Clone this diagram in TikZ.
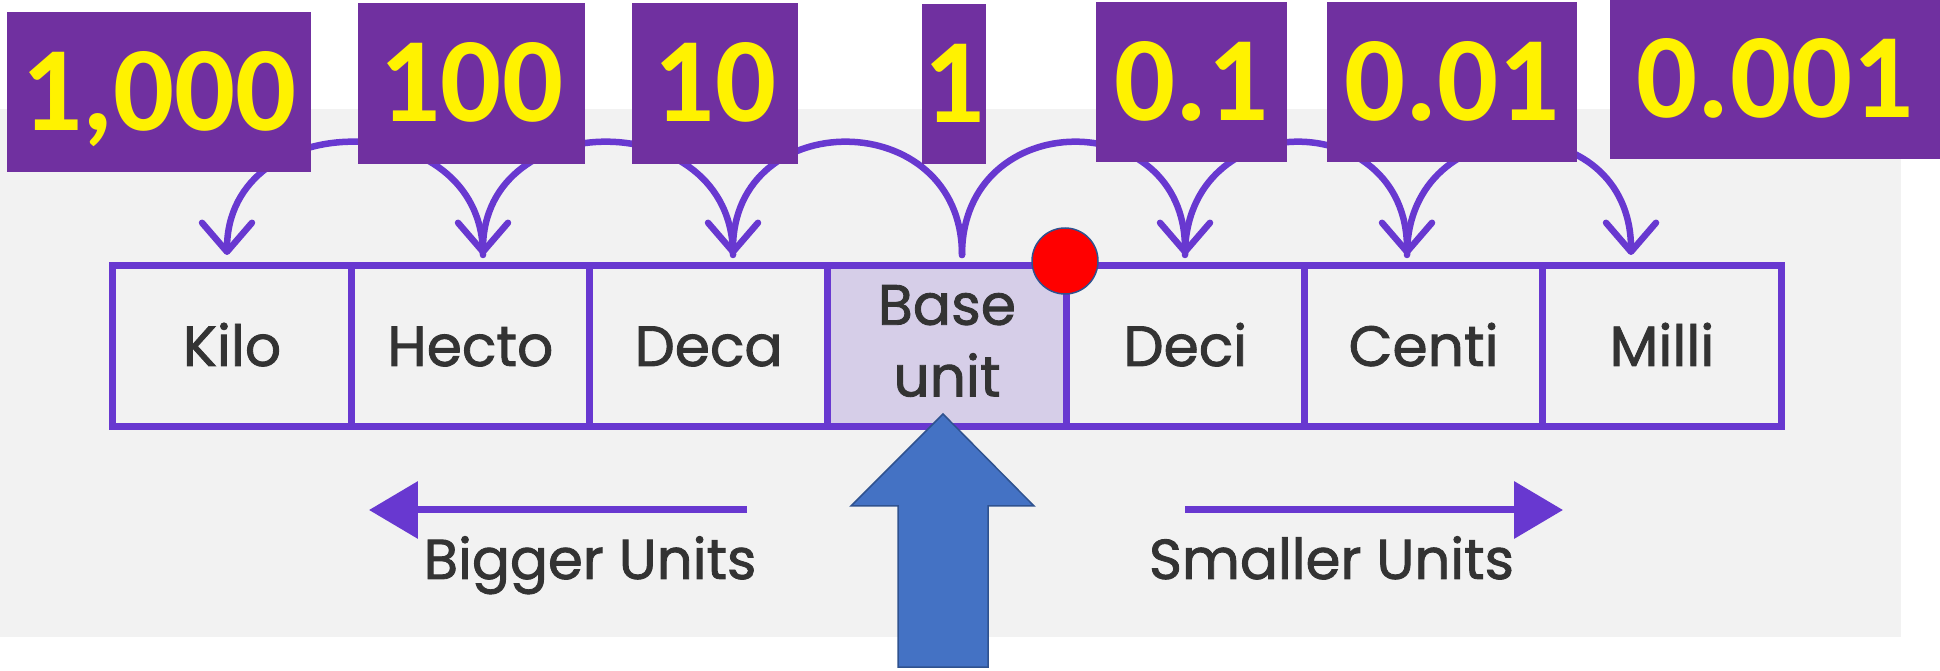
\documentclass[tikz,border=0pt]{standalone}
\usepackage{fontspec}
\setmainfont{Poppins}[FakeBold=1.5]
\newfontfamily\numfont{Carlito}
\usetikzlibrary{arrows.meta}
\definecolor{bggray}{RGB}{242,242,242}
\definecolor{tblpurple}{RGB}{104,56,208}
\definecolor{boxpurple}{RGB}{112,48,160}
\definecolor{baselav}{RGB}{214,206,232}
\definecolor{txtgray}{RGB}{51,51,51}
\definecolor{arrblue}{RGB}{68,114,196}
\definecolor{arrborder}{RGB}{47,82,143}
\begin{document}
\begin{tikzpicture}[x=0.02cm,y=-0.02cm,
  cell/.style={draw=tblpurple, line width=0.14cm, minimum width=4.766cm, minimum height=3.24cm,
    inner sep=0pt, font=\fontsize{32.3}{40.8}\selectfont, text=txtgray, text height=0.8cm, text depth=0pt},
  cellword/.style={inner sep=0pt, align=center, font=\fontsize{32.3}{40.8}\selectfont, text=txtgray},
  numbox/.style={fill=boxpurple, text=yellow, inner sep=0pt,
    font=\numfont\bfseries\fontsize{68.6}{80}\selectfont, text height=1.54cm, text depth=0pt},
  hop/.style={draw=tblpurple, line width=0.13cm, line cap=round, -{Straight Barb[length=0.58cm,width=1.0cm,round]}},
  dirarrow/.style={draw=tblpurple, line width=0.14cm, -{Triangle[length=0.98cm,width=1.12cm]}},
  dirlabel/.style={font=\fontsize{32}{38}\selectfont, text=txtgray, inner sep=0pt, text height=0.76cm, text depth=0pt}
]
\useasboundingbox (0,0) rectangle (1940,671);
% background panel
\fill[bggray] (0,109) rectangle (1901,637);

% arc end points
\coordinate (tK) at (227,255);
\coordinate (tH) at (483,255);
\coordinate (tD) at (733,255);
\coordinate (tB) at (962,255);
\coordinate (tDe) at (1185,255);
\coordinate (tC) at (1407,255);
\coordinate (tM) at (1631,255);

\draw[hop] (tB) .. controls +(0,-150) and +(0,-150) .. (tD);
\draw[hop] (tD) .. controls +(0,-150) and +(0,-150) .. (tH);
\draw[hop] (tH) .. controls +(0,-150) and +(0,-150) .. (tK);
\draw[hop] (tB) .. controls +(0,-150) and +(0,-150) .. (tDe);
\draw[hop] (tDe) .. controls +(0,-150) and +(0,-150) .. (tC);
\draw[hop] (tC) .. controls +(0,-150) and +(0,-150) .. (tM);

% table cells
\node[cell] (kilo) at (232.1,346) {Kilo};
\node[cell] (hecto) at (470.4,346) {Hecto};
\node[cell] (deca) at (708.7,346) {Deca};
\node[cell] (deci) at (1185.3,346) {Deci};
\node[cell] (centi) at (1423.6,346) {Centi};
\node[cell] (milli) at (1661.9,346) {Milli};
\node[cell, fill=baselav] (base) at (947,346) {};
\node[cellword] (baselabel) at (947,341) {Base\\unit};

% number boxes
\node[numbox, minimum width=6.08cm, minimum height=3.2cm] (n1000) at (159,92) {1,000};
\node[numbox, minimum width=4.54cm, minimum height=3.22cm] (n100) at (471.5,83.5) {100};
\node[numbox, minimum width=3.32cm, minimum height=3.22cm] (n10) at (715,83.5) {10};
\node[numbox, minimum width=1.28cm, minimum height=3.2cm] (n1) at (954,84) {1};
\node[numbox, minimum width=3.82cm, minimum height=3.2cm] (n01) at (1191.5,82) {0.1};
\node[numbox, minimum width=5.0cm, minimum height=3.2cm] (n001) at (1452,82) {0.01};
\node[numbox, minimum width=6.6cm, minimum height=3.18cm] (n0001) at (1775,79.5) {0.001};

% direction arrows
\coordinate (bigS) at (747,510);
\coordinate (bigE) at (369,510);
\coordinate (smlS) at (1185,510);
\coordinate (smlE) at (1563,510);
\draw[dirarrow] (bigS) -- (bigE);
\draw[dirarrow] (smlS) -- (smlE);
\node[dirlabel] (bigger) at (590,560) {Bigger Units};
\node[dirlabel] (smaller) at (1331.5,560) {Smaller Units};

% blue block arrow
\draw[fill=arrblue, draw=arrborder, line width=0.03cm]
  (943,414) -- (1034,506) -- (988,506) -- (988,667) -- (898,667) -- (898,506) -- (851,506) -- cycle;

% red dot
\node[circle, fill=red, draw=arrborder, line width=0.03cm, minimum size=1.32cm, inner sep=0pt] (dot) at (1065,261) {};
\end{tikzpicture}
\end{document}
